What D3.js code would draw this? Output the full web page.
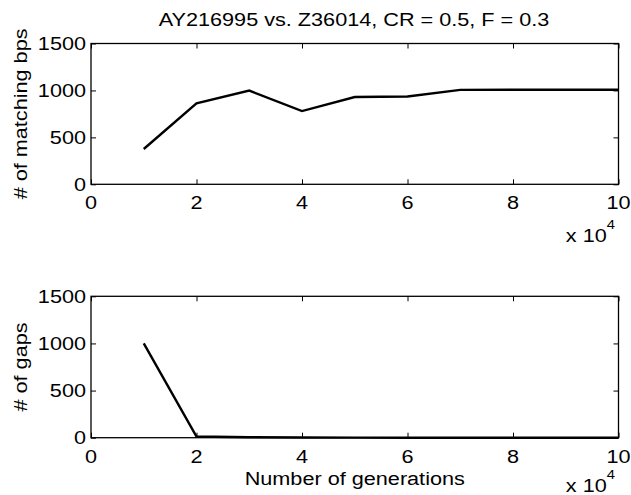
<!DOCTYPE html>
<html>
<head>
<meta charset="utf-8">
<script src="https://cdn.jsdelivr.net/npm/d3@7"></script>
<style>
  body { margin: 0; background: #fff; }
  svg text { font-family: "Liberation Sans", Arial, Helvetica, sans-serif; fill: #000; }
</style>
</head>
<body>
<div id="chart"></div>
<script>
// generations (x 10^4)
const generations = [1, 2, 3, 4, 5, 6, 7, 8, 9, 10];
const matchingBps = [376, 862, 998, 780, 930, 936, 1006, 1008, 1008, 1007];
const gaps = [1000, 12, 5, 2, 1, 0, 0, 0, 0, 0];
const xTicks = [0, 2, 4, 6, 8, 10];
const yTicks = [0, 500, 1000, 1500];

const width = 631, height = 495;
const fontSize = 19;
const stretch = 1.14; // the original font is wider than Liberation Sans

const svg = d3.select('#chart').append('svg')
  .attr('width', width)
  .attr('height', height);

// text with a horizontal stretch around its anchor point
let addText = (parent, x, y, str, anchor, rotate) => {
  let tf = `translate(${x}, ${y})` + (rotate ? ` rotate(${rotate})` : '') + ` scale(${stretch}, 1)`;
  return parent.append('text')
    .attr('transform', tf)
    .attr('text-anchor', anchor)
    .style('font-size', fontSize + 'px')
    .text(str);
}

let drawPanel = (top, bottom, values, yLabel, xLabel) => {
  const x = d3.scaleLinear().domain([0, 10]).range([91, 618.5]);
  const y = d3.scaleLinear().domain([0, 1500]).range([bottom, top]);

  const g = svg.append('g');

  // inward ticks on all four sides, like matlab's box
  g.append('g')
    .attr('transform', `translate(0, ${bottom})`)
    .call(d3.axisBottom(x).tickValues(xTicks).tickSize(-5).tickFormat(''))
  g.append('g')
    .attr('transform', `translate(0, ${top})`)
    .call(d3.axisTop(x).tickValues(xTicks).tickSize(-5).tickFormat(''))
  g.append('g')
    .attr('transform', `translate(91, 0)`)
    .call(d3.axisLeft(y).tickValues(yTicks).tickSize(-5).tickFormat(''))
  g.append('g')
    .attr('transform', `translate(618.5, 0)`)
    .call(d3.axisRight(y).tickValues(yTicks).tickSize(-5).tickFormat(''))

  g.selectAll('.domain').remove();
  g.selectAll('.tick line').attr('stroke', '#000').attr('stroke-width', 1);

  g.append('rect')
    .attr('x', x(0)).attr('y', top)
    .attr('width', x(10) - x(0)).attr('height', bottom - top)
    .attr('fill', 'none')
    .attr('stroke', '#000')
    .attr('stroke-width', 1.3);

  // tick labels
  for (const t of xTicks) {
    addText(g, x(t), bottom + 25, t, 'middle');
  }
  for (const t of yTicks) {
    addText(g, 86, y(t) + 6.7, t, 'end');
  }

  // x 10^4 multiplier
  const mult = addText(g, 615, Math.min(bottom + 57.5, 492), 'x 10', 'end');
  mult.append('tspan').attr('dy', -13).style('font-size', '13px').text('4');

  addText(g, 27, (top + bottom) / 2, yLabel, 'middle', -90);

  if (xLabel) {
    addText(g, (x(0) + x(10)) / 2, bottom + 47.5, xLabel, 'middle');
  }

  const line = d3.line()
    .x((d, i) => x(generations[i]))
    .y(d => y(d));

  g.append('path')
    .attr('d', line(values))
    .attr('fill', 'none')
    .attr('stroke', '#000')
    .attr('stroke-width', 2.4)
    .attr('stroke-linejoin', 'miter');
}

drawPanel(43.5, 184.3, matchingBps, '# of matching bps', null);
drawPanel(296.3, 437.7, gaps, '# of gaps', 'Number of generations');

addText(svg, 354, 26, 'AY216995 vs. Z36014, CR = 0.5, F = 0.3', 'middle');
</script>
</body>
</html>
